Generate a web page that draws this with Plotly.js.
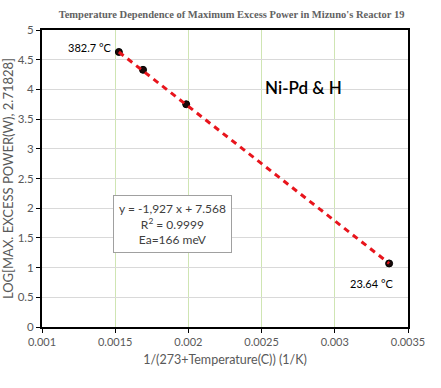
<!DOCTYPE html>
<html><head><meta charset="utf-8">
<script src="https://cdn.plot.ly/plotly-3.0.1.min.js"></script>
<style>body{margin:0;background:#fff}#c{width:441px;height:388px}</style>
</head><body><div id="c"></div>
<script>
var tempsC = [382.7, 318, 231, 23.64];
var invT = [0.001525, 0.00169, 0.001985, 0.003371];
var logP = [4.63, 4.33, 3.75, 1.07];
var slope = -1927, intercept = 7.568;
var fitX = [invT[0], invT[invT.length-1]];
var fitY = fitX.map(function(x){return slope*x+intercept;});
var xTicks = [0.001,0.0015,0.002,0.0025,0.003,0.0035];
var xTickText = ['0.001','0.0015','0.002','0.0025','0.003','0.0035'];
var yTicks = [0,0.5,1,1.5,2,2.5,3,3.5,4,4.5,5];
var yTickText = ['0','0.5','1','1.5','2','2.5','3','3.5','4','4.5','5'];

var traces = [
 {x: invT, y: logP, mode:'markers', type:'scatter',
  marker:{color:'#1a0a0a', size:7, line:{color:'#000', width:1}}},
 {x: fitX, y: fitY, mode:'lines', type:'scatter',
  line:{color:'#e8141c', width:3, dash:'6px,5px'}}
];
var font = 'Lato, "Open Sans", "Liberation Sans", sans-serif';
var layout = {
 width:441, height:388, showlegend:false,
 margin:{l:42, r:33, t:30, b:61},
 paper_bgcolor:'#fff', plot_bgcolor:'#fff',
 font:{family:font},
 title:{text:'Temperature Dependence of Maximum Excess Power in Mizuno\'s Reactor 19',
   font:{family:'"Liberation Serif", "DejaVu Serif", serif', size:10.5, color:'#626262', weight:'bold'},
   x:0.525, xanchor:'center', y:0.963, yanchor:'middle'},
 xaxis:{range:[0.001,0.0035], tickvals:xTicks, ticktext:xTickText,
   showgrid:true, gridcolor:'#cfe5b3', gridwidth:1, zeroline:false,
   showline:true, linecolor:'#000', linewidth:2, mirror:true,
   ticks:'outside', ticklen:4, tickcolor:'#000',
   tickfont:{size:11, color:'#595959'},
   title:{text:'1/(273+Temperature(C)) (1/K)', font:{size:12.5, color:'#595959'}, standoff:8}},
 yaxis:{range:[0,5], tickvals:yTicks, ticktext:yTickText,
   showgrid:true, gridcolor:'#d9d9d9', gridwidth:1, zeroline:false,
   showline:true, linecolor:'#000', linewidth:2, mirror:true,
   ticks:'outside', ticklen:4, tickcolor:'#000',
   tickfont:{size:11.5, color:'#595959'},
   title:{text:'LOG[MAX. EXCESS POWER(W), 2.71828]', font:{size:13, color:'#595959'}, standoff:5}},
 annotations:[
  {x:invT[0], y:logP[0], xref:'x', yref:'y', text:tempsC[0]+' °C', showarrow:false,
   xanchor:'right', xshift:-6, yshift:4, font:{size:11, color:'#000'}},
  {x:invT[3], y:logP[3], xref:'x', yref:'y', text:tempsC[3]+' °C', showarrow:false,
   xanchor:'center', xshift:-18, yshift:-20, font:{size:11, color:'#000'}},
  {x:0.00251, y:4.03, xref:'x', yref:'y', text:'Ni-Pd & H', showarrow:false,
   xanchor:'left', font:{size:17, color:'#000', weight:600}},
  {x:0.00189, y:1.73, xref:'x', yref:'y', showarrow:false,
   text:'y = -1,927 x + 7.568<br>R<sup>2</sup> = 0.9999<br>Ea=166 meV',
   align:'center', bgcolor:'#fff', bordercolor:'#a0a0a0', borderwidth:1, borderpad:5,
   font:{size:12, color:'#404040'}}
 ]
};
Plotly.newPlot('c', traces, layout, {displayModeBar:false, staticPlot:true});
</script></body></html>
